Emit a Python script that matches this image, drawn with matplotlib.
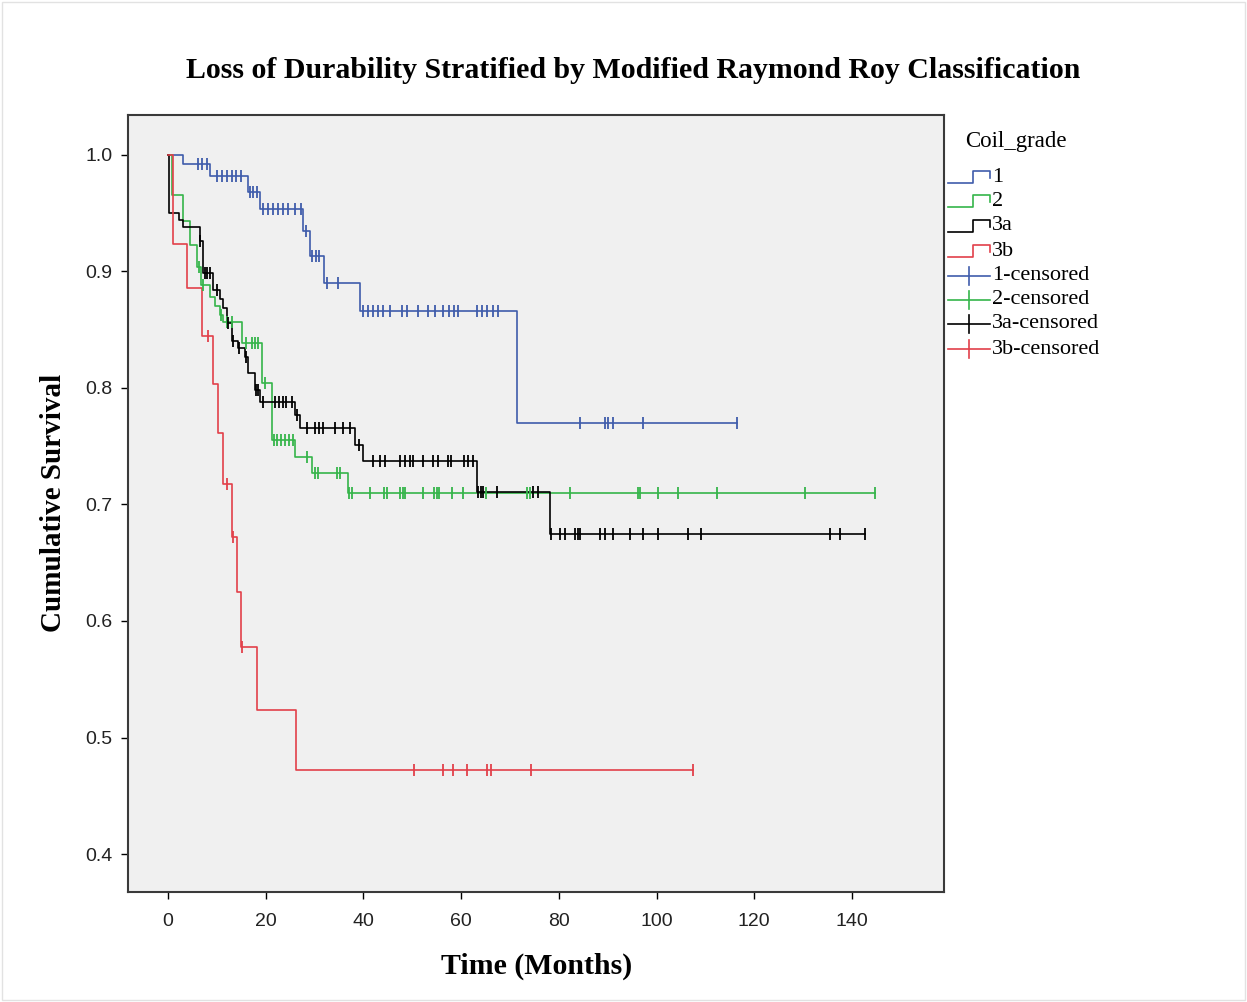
import numpy as np
import matplotlib
matplotlib.use("Agg")
import matplotlib.pyplot as plt
from matplotlib.lines import Line2D
from matplotlib.patches import Rectangle

# ---------------- data ----------------
group_names = ["1", "2", "3a", "3b"]
colors = ["#3f5cab", "#35b54a", "#000000", "#e2404a"]

g1_times = [0, 3.1, 8.5, 16.4, 18.8, 27.6, 29.0, 32.0, 39.2, 71.4]
g1_surv = [1.0, 0.992, 0.982, 0.968, 0.954, 0.935, 0.913, 0.890, 0.866, 0.770]
g1_cens = [6.2, 7.0, 8.0, 10.0, 11.0, 12.0, 13.0, 14.0, 15.0, 16.8, 17.5, 18.3,
           19.5, 20.5, 21.5, 22.5, 23.5, 24.5, 26.0, 27.2, 28.2, 29.5, 30.2, 31.0,
           32.5, 34.8, 40.0, 41.0, 42.0, 43.0, 44.0, 45.5, 47.8, 49.0, 51.2, 53.3,
           54.7, 56.3, 57.5, 58.5, 59.4, 63.2, 64.3, 65.3, 66.5, 67.6, 84.3, 89.5,
           90.1, 91.1, 97.2, 116.4]

g2_times = [0, 0.8, 3.1, 4.4, 6.0, 6.8, 8.6, 9.6, 10.6, 11.3, 15.1, 19.3, 21.2,
            26.0, 29.4, 36.8]
g2_surv = [1.0, 0.966, 0.943, 0.923, 0.904, 0.888, 0.878, 0.870, 0.863, 0.857,
           0.839, 0.804, 0.755, 0.741, 0.727, 0.710]
g2_cens = [6.3, 7.2, 10.9, 12.0, 13.0, 16.0, 17.1, 17.8, 18.4, 19.9, 21.6, 22.4,
           23.2, 24.0, 24.8, 25.6, 28.4, 30.0, 30.7, 34.5, 35.2, 37.0, 37.6, 41.3,
           44.2, 44.9, 47.5, 48.1, 48.6, 52.2, 54.4, 55.0, 55.5, 58.1, 60.3, 65.0,
           73.4, 74.1, 82.3, 96.3, 96.6, 100.3, 104.4, 112.4, 130.4, 144.7]

g3a_times = [0, 0.3, 2.2, 3.0, 6.5, 7.2, 9.3, 10.6, 11.3, 12.0, 13.0, 14.3, 15.8,
             16.4, 17.8, 18.8, 26.0, 27.0, 38.3, 40.0, 63.2, 78.2]
g3a_surv = [1.0, 0.950, 0.944, 0.938, 0.926, 0.899, 0.884, 0.876, 0.869, 0.856,
            0.840, 0.834, 0.827, 0.813, 0.798, 0.788, 0.777, 0.766, 0.751, 0.737,
            0.711, 0.675]
g3a_cens = [6.6, 7.5, 8.0, 8.6, 10.0, 12.3, 13.3, 14.6, 16.0, 18.0, 18.4, 19.5,
            21.9, 22.7, 23.5, 24.2, 25.3, 26.5, 28.4, 30.1, 31.0, 31.8, 34.2, 35.8,
            37.3, 39.0, 42.0, 43.4, 44.4, 47.5, 48.5, 49.5, 50.2, 52.2, 54.3, 55.3,
            57.3, 58.0, 60.5, 61.5, 62.4, 63.5, 64.0, 64.5, 67.3, 74.7, 75.7, 78.5,
            80.2, 81.3, 83.3, 83.9, 84.3, 88.4, 89.5, 91.1, 94.6, 97.2, 100.3, 106.4,
            109.2, 135.5, 137.6, 142.7]

g3b_times = [0, 1.0, 3.8, 6.9, 9.2, 10.2, 11.3, 13.0, 14.1, 15.0, 18.2, 26.2]
g3b_surv = [1.0, 0.924, 0.886, 0.845, 0.803, 0.761, 0.718, 0.672, 0.625, 0.578,
            0.524, 0.472]
g3b_cens = [8.2, 12.0, 13.3, 15.1, 50.3, 56.3, 58.3, 61.2, 65.2, 66.1, 74.3, 107.4]

x_ticks = [0, 20, 40, 60, 80, 100, 120, 140]
y_ticks = [0.4, 0.5, 0.6, 0.7, 0.8, 0.9, 1.0]

groups = [(g1_times, g1_surv, g1_cens),
          (g2_times, g2_surv, g2_cens),
          (g3a_times, g3a_surv, g3a_cens),
          (g3b_times, g3b_surv, g3b_cens)]

# ---------------- figure ----------------
W, H = 1247, 1002
fig = plt.figure(figsize=(W / 100, H / 100), dpi=100)
fig.patch.set_facecolor("white")
fig.patches.append(Rectangle((0.002, 0.002), 0.996, 0.996, transform=fig.transFigure,
                             fill=False, edgecolor="#e2e2e2", linewidth=1.0))

ax = fig.add_axes([128 / W, 1 - 892 / H, (944 - 128) / W, (892 - 115) / H])
ax.set_facecolor("#f0f0f0")

for (t, s, c), col in zip(groups, colors):
    t = np.asarray(t, float)
    s = np.asarray(s, float)
    c = np.asarray(c, float)
    end = max(t.max(), c.max())
    tt = np.append(t, end)
    ss = np.append(s, s[-1])
    ax.step(tt, ss, where="post", color=col, linewidth=1.2, zorder=3)
    idx = np.searchsorted(t, c, side="right") - 1
    ax.plot(c, s[idx], linestyle="none", marker="|", markersize=8,
            markeredgewidth=1.3, color=col, zorder=4)

ax.set_xlim(-8.19, 158.85)
ax.set_ylim(0.3674, 1.0343)
ax.set_xticks(x_ticks)
ax.set_yticks(y_ticks)
ax.set_yticklabels([f"{v:.1f}" for v in y_ticks])
ax.tick_params(direction="out", length=5, width=1, colors="black", labelsize=14)
ax.tick_params(axis="x", pad=10)
ax.tick_params(axis="y", pad=6)
for lab in ax.get_xticklabels() + ax.get_yticklabels():
    lab.set_fontfamily("Liberation Sans")
    lab.set_color("#222222")
for sp in ax.spines.values():
    sp.set_color("#3a3a3a")
    sp.set_linewidth(1.5)

serif = "Liberation Serif"
fig.text(633 / W, 1 - 71 / H, "Loss of Durability Stratified by Modified Raymond Roy Classification",
         ha="center", va="center", fontsize=21.5, fontweight="bold", family=serif)
fig.text(537 / W, 1 - 966 / H, "Time (Months)", ha="center", va="center",
         fontsize=21.5, fontweight="bold", family=serif)
fig.text(54 / W, 1 - 503 / H, "Cumulative Survival", ha="center", va="center",
         rotation=90, fontsize=21, fontweight="bold", family=serif)

# ---------------- legend (drawn in figure pixel coordinates) ----------------
def px_line(xs, ys, col):
    fig.add_artist(Line2D(np.asarray(xs) / W, 1 - np.asarray(ys) / H,
                          transform=fig.transFigure, color=col, linewidth=1.2))

fig.text(965 / W, 1 - 142 / H, "Coil_grade", ha="left", va="center",
         fontsize=16.5, family=serif)
row_y = [177, 201, 226, 251, 276, 300, 324, 349]
labels = list(group_names) + [f"{n}-censored" for n in group_names]
for i, (lab, y) in enumerate(zip(labels, row_y)):
    col = colors[i % 4]
    if i < 4:
        px_line([948, 973, 973, 990, 990], [y + 6, y + 6, y - 6, y - 6, y + 1], col)
    else:
        px_line([948, 990], [y, y], col)
        px_line([969, 969], [y - 9, y + 9], col)
    fig.text(992 / W, 1 - y / H, lab, ha="left", va="center", fontsize=16, family=serif)

fig.savefig("out.png", dpi=100)
